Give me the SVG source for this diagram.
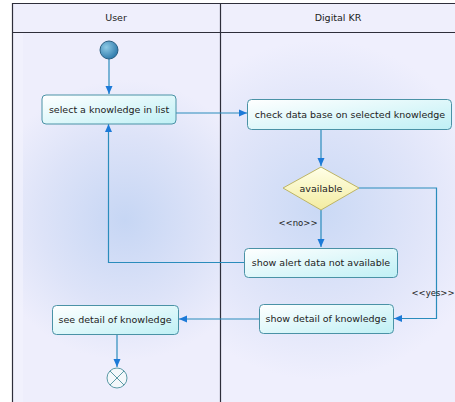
<svg xmlns="http://www.w3.org/2000/svg" width="455" height="402" viewBox="0 0 455 402">
  <defs>
    <radialGradient id="laneUser" cx="125" cy="220" r="140" gradientUnits="userSpaceOnUse">
      <stop offset="0" stop-color="#c6d6f4"/>
      <stop offset="0.6" stop-color="#dde3f8"/>
      <stop offset="1" stop-color="#eeeefc"/>
    </radialGradient>
    <radialGradient id="laneKR" cx="320" cy="210" r="170" gradientUnits="userSpaceOnUse">
      <stop offset="0" stop-color="#cad9f5"/>
      <stop offset="0.6" stop-color="#e0e5f9"/>
      <stop offset="1" stop-color="#efeffd"/>
    </radialGradient>
    <linearGradient id="boxFill" x1="0" y1="0" x2="1" y2="1">
      <stop offset="0" stop-color="#ffffff"/>
      <stop offset="1" stop-color="#bff0f5"/>
    </linearGradient>
    <linearGradient id="diaFill" x1="0" y1="0" x2="0" y2="1">
      <stop offset="0" stop-color="#ffffe8"/>
      <stop offset="1" stop-color="#f3eca0"/>
    </linearGradient>
    <radialGradient id="startFill" cx="0.35" cy="0.35" r="0.7">
      <stop offset="0" stop-color="#8fcbe6"/>
      <stop offset="1" stop-color="#2c78aa"/>
    </radialGradient>
    <marker id="arrow" markerWidth="9" markerHeight="8" refX="8" refY="4" orient="auto" markerUnits="userSpaceOnUse">
      <path d="M0,0.5 L8,4 L0,7.5 z" fill="#1c7ad8"/>
    </marker>
    <style>
      .hdr { font-family: "DejaVu Sans", "Liberation Sans", sans-serif; font-size: 9.5px; fill: #222; text-anchor: middle; }
      .lbl { font-family: "DejaVu Sans", "Liberation Sans", sans-serif; font-size: 9.5px; fill: #222; text-anchor: middle; }
      .guard { font-family: "DejaVu Sans", "Liberation Sans", sans-serif; font-size: 8.5px; fill: #222; text-anchor: middle; }
      .box { fill: url(#boxFill); stroke: #4a92a6; stroke-width: 1; }
      .dec { fill: url(#diaFill); stroke: #bdb465; stroke-width: 1; }
      .flow { fill: none; stroke: #2a8cbc; stroke-width: 1.2; marker-end: url(#arrow); }
      .frame { stroke: #2e2e3a; stroke-width: 1.2; fill: none; }
    </style>
  </defs>

  <!-- swimlane background -->
  <rect x="0" y="0" width="455" height="402" fill="#ffffff"/>
  <rect x="12" y="3" width="208" height="399" fill="url(#laneUser)"/>
  <rect x="220" y="3" width="235" height="399" fill="url(#laneKR)"/>
  <rect x="12" y="3" width="443" height="29" fill="#efeffc"/>
  <rect x="13" y="33" width="10" height="369" fill="#f3f3fd" opacity="0.6"/>

  <!-- swimlane frame -->
  <g id="lanes">
    <path class="frame" d="M12.5,402 V3.5 H455 M12.5,32.5 H455 M220.5,3.5 V402"/>
    <text class="hdr" x="116" y="21">User</text>
    <text class="hdr" x="338" y="21">Digital KR</text>
  </g>

  <!-- control flows -->
  <g id="connectors">
    <path class="flow" d="M109,59 V94"/>
    <path class="flow" d="M176,113 H247"/>
    <path class="flow" d="M321,130 V166"/>
    <path class="flow" d="M321,210 V247"/>
    <path class="flow" d="M359,188 H436.5 V318.5 H394"/>
    <path class="flow" d="M244,262.5 H108.5 V124"/>
    <path class="flow" d="M259,319 H179"/>
    <path class="flow" d="M117,335 V367"/>
    <text class="guard" x="298" y="226">&lt;&lt;no&gt;&gt;</text>
    <text class="guard" x="433" y="296">&lt;&lt;yes&gt;&gt;</text>
  </g>

  <g id="start">
    <circle cx="109" cy="50" r="9" fill="url(#startFill)" stroke="#2a5f82" stroke-width="1"/>
  </g>

  <g id="select-knowledge">
    <rect class="box" x="42" y="95" width="134" height="29" rx="4"/>
    <text class="lbl" x="109" y="113">select a knowledge in list</text>
  </g>

  <g id="check-database">
    <rect class="box" x="247.5" y="99.5" width="204" height="30" rx="4"/>
    <text class="lbl" x="350" y="118">check data base on selected knowledge</text>
  </g>

  <g id="available">
    <polygon class="dec" points="321,167 359,188 321,210 283,188"/>
    <text class="lbl" x="321" y="192">available</text>
  </g>

  <g id="show-alert">
    <rect class="box" x="244.5" y="248.5" width="153" height="29" rx="4"/>
    <text class="lbl" x="321" y="266">show alert data not available</text>
  </g>

  <g id="show-detail">
    <rect class="box" x="259.5" y="304.5" width="134" height="29" rx="4"/>
    <text class="lbl" x="326" y="322">show detail of knowledge</text>
  </g>

  <g id="see-detail">
    <rect class="box" x="52.5" y="305.5" width="126" height="29" rx="4"/>
    <text class="lbl" x="115" y="323">see detail of knowledge</text>
  </g>

  <g id="end">
    <circle cx="117" cy="378" r="10" fill="#f4f8fb" stroke="#5b9aa6" stroke-width="1"/>
    <path d="M110,371 L124,385 M124,371 L110,385" stroke="#5b9aa6" stroke-width="1"/>
  </g>
</svg>
